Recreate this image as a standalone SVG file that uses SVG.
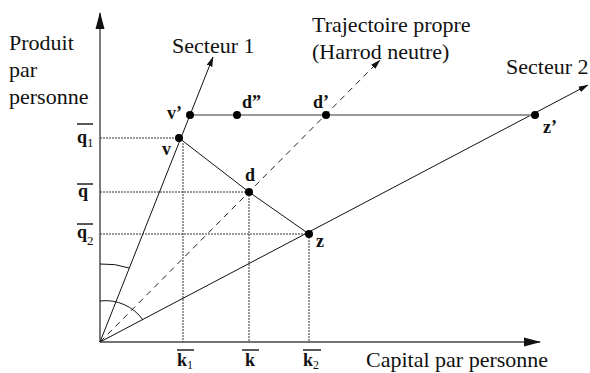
<svg xmlns="http://www.w3.org/2000/svg" width="590" height="373" viewBox="0 0 590 373">
<defs>
<marker id="big" markerWidth="17" markerHeight="10" refX="16" refY="5" orient="auto" markerUnits="userSpaceOnUse"><path d="M0,0.5 L17,5 L0,9.5 Z" fill="#111"/></marker>
<marker id="small" markerWidth="10" markerHeight="7" refX="9.5" refY="3.5" orient="auto" markerUnits="userSpaceOnUse"><path d="M0,0.5 L10,3.5 L0,6.5 Z" fill="#111"/></marker>
</defs>
<style>
.t{font-family:"Liberation Serif","Times New Roman",serif;font-size:22px;fill:#111}
.p{font-family:"Liberation Serif","Times New Roman",serif;font-size:18px;font-weight:bold;fill:#111}
.s{font-family:"Liberation Serif","Times New Roman",serif;font-size:13px;fill:#111}
.sk{font-family:"Liberation Serif","Times New Roman",serif;font-size:12px;fill:#111}
.axis{stroke:#444;stroke-width:1.4;fill:none}
.solid{stroke:#111;stroke-width:1;fill:none}
.gray{stroke:#777;stroke-width:1.4;fill:none}
.dash{stroke:#222;stroke-width:1;stroke-dasharray:6 5;fill:none}
.dot{stroke:#333;stroke-width:1;stroke-dasharray:2 1;fill:none}
.ov{stroke:#111;stroke-width:1.4}
.pt{fill:#000}
</style>
<rect width="590" height="373" fill="#fff"/>
<g id="axes">
<line class="axis" x1="100" y1="342" x2="100" y2="13" marker-end="url(#big)"/>
<line class="axis" x1="100" y1="342" x2="540" y2="342" marker-end="url(#big)"/>
<text class="t" x="9" y="50">Produit</text>
<text class="t" x="9" y="77">par</text>
<text class="t" x="9" y="104">personne</text>
<text class="t" x="366" y="367">Capital par personne</text>
</g>
<g id="connectors">
<line class="solid" x1="100" y1="342" x2="213" y2="57" marker-end="url(#small)"/>
<line class="solid" x1="100" y1="342" x2="588" y2="85" marker-end="url(#small)"/>
<line class="dash" x1="100" y1="342" x2="380" y2="60" marker-end="url(#small)"/>
<line class="gray" x1="190" y1="115" x2="535" y2="115"/>
<polyline class="solid" points="179,138 249,192 309,234"/>
<line class="dot" x1="100" y1="138" x2="176" y2="138"/>
<line class="dot" x1="100" y1="192" x2="249" y2="192"/>
<line class="dot" x1="100" y1="234" x2="309" y2="234"/>
<line class="dot" x1="183" y1="143" x2="183" y2="342"/>
<line class="dot" x1="249" y1="192" x2="249" y2="342"/>
<line class="dot" x1="309" y1="234" x2="309" y2="342"/>
<path class="solid" d="M100,264 A78,78 0 0 1 129,268"/>
<path class="solid" d="M100,301 A46,46 0 0 1 143,320"/>
</g>
<g id="labels">
<text class="t" x="172" y="53">Secteur 1</text>
<text class="t" x="506" y="74">Secteur 2</text>
<text class="t" x="312" y="32">Trajectoire propre</text>
<text class="t" x="312" y="59">(Harrod neutre)</text>
</g>
<g id="node-v"><circle class="pt" cx="179" cy="138" r="4"/><text class="p" x="162" y="155">v</text></g>
<g id="node-v2"><circle class="pt" cx="190" cy="115" r="4"/><text class="p" x="167" y="119">v’</text></g>
<g id="node-d2"><circle class="pt" cx="237" cy="115" r="4"/><text class="p" x="242" y="108">d”</text></g>
<g id="node-d1"><circle class="pt" cx="326" cy="115" r="4"/><text class="p" x="313" y="108">d’</text></g>
<g id="node-z2"><circle class="pt" cx="535" cy="115" r="4"/><text class="p" x="543" y="133">z’</text></g>
<g id="node-d"><circle class="pt" cx="249" cy="192" r="4"/><text class="p" x="245" y="181">d</text></g>
<g id="node-z"><circle class="pt" cx="309" cy="234" r="4"/><text class="p" x="316" y="247">z</text></g>
<g id="tick-q1"><line class="ov" x1="77" y1="124" x2="93" y2="124"/><text class="p" x="77" y="143">q</text><text class="s" x="87" y="147">1</text></g>
<g id="tick-q"><line class="ov" x1="77" y1="184" x2="93" y2="184"/><text class="p" x="78" y="197">q</text></g>
<g id="tick-q2"><line class="ov" x1="77" y1="224" x2="93" y2="224"/><text class="p" x="77" y="238">q</text><text class="s" x="87" y="245">2</text></g>
<g id="tick-k1"><line class="ov" x1="177" y1="350" x2="194" y2="350"/><text class="p" x="177" y="366">k</text><text class="sk" x="187" y="369">1</text></g>
<g id="tick-k"><line class="ov" x1="242" y1="350" x2="259" y2="350"/><text class="p" x="245" y="366">k</text></g>
<g id="tick-k2"><line class="ov" x1="303" y1="350" x2="321" y2="350"/><text class="p" x="303" y="366">k</text><text class="sk" x="313" y="369">2</text></g>
</svg>
